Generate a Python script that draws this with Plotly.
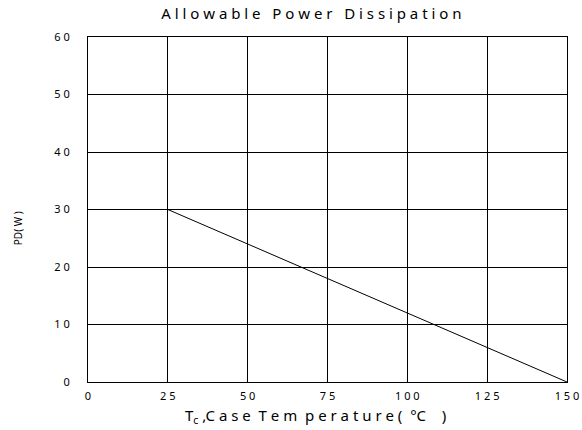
import plotly.graph_objects as go

temps = [25, 150]
power = [30, 0]
x_ticks = [0, 25, 50, 75, 100, 125, 150]
y_ticks = [0, 10, 20, 30, 40, 50, 60]

W, H = 582, 430
L, R, T, B = 88, 15, 37, 48

fig = go.Figure()
fig.add_trace(go.Scatter(x=temps, y=power, mode="lines",
                         line=dict(color="black", width=1), showlegend=False))

fig.update_layout(
    width=W, height=H,
    margin=dict(l=L, r=R, t=T, b=B, autoexpand=False),
    paper_bgcolor="white", plot_bgcolor="white",
    font=dict(family="Noto Sans, Open Sans, sans-serif", color="black", size=11),
    title=dict(text="A l l o w a b l e   P o w e r   D i s s i p a t i o n",
               x=0.535, xanchor="center", y=0.969, yanchor="middle",
               font=dict(size=15)),
    annotations=[
        dict(text="T<sub>c</sub> ,C a s e  T e m  p e r a t u r e (  °C    )",
             xref="paper", yref="paper", x=0.474, y=-0.062,
             xanchor="center", yanchor="top", showarrow=False,
             font=dict(size=15)),
        dict(text="PD( W )", xref="paper", yref="paper",
             x=-0.146, y=0.446, xanchor="center", yanchor="middle",
             textangle=-90, showarrow=False, font=dict(size=10)),
    ],
)
fig.update_xaxes(range=[0, 150], tickvals=x_ticks,
                 ticktext=[" ".join(str(v)) for v in x_ticks],
                 showgrid=True, gridcolor="black", gridwidth=1,
                 showline=True, linecolor="black", linewidth=1, mirror=True,
                 zeroline=False, ticks="", ticklabelstandoff=4, automargin=False)
fig.update_yaxes(range=[0, 60], tickvals=y_ticks,
                 ticktext=[" ".join(str(v)) for v in y_ticks],
                 showgrid=True, gridcolor="black", gridwidth=1,
                 showline=True, linecolor="black", linewidth=1, mirror=True,
                 zeroline=False, ticks="", ticklabelstandoff=15, automargin=False)

fig.write_html("out.html", config={"displayModeBar": False},
               post_script="document.body.style.margin='0';"
                           "document.body.style.overflow='hidden';")
